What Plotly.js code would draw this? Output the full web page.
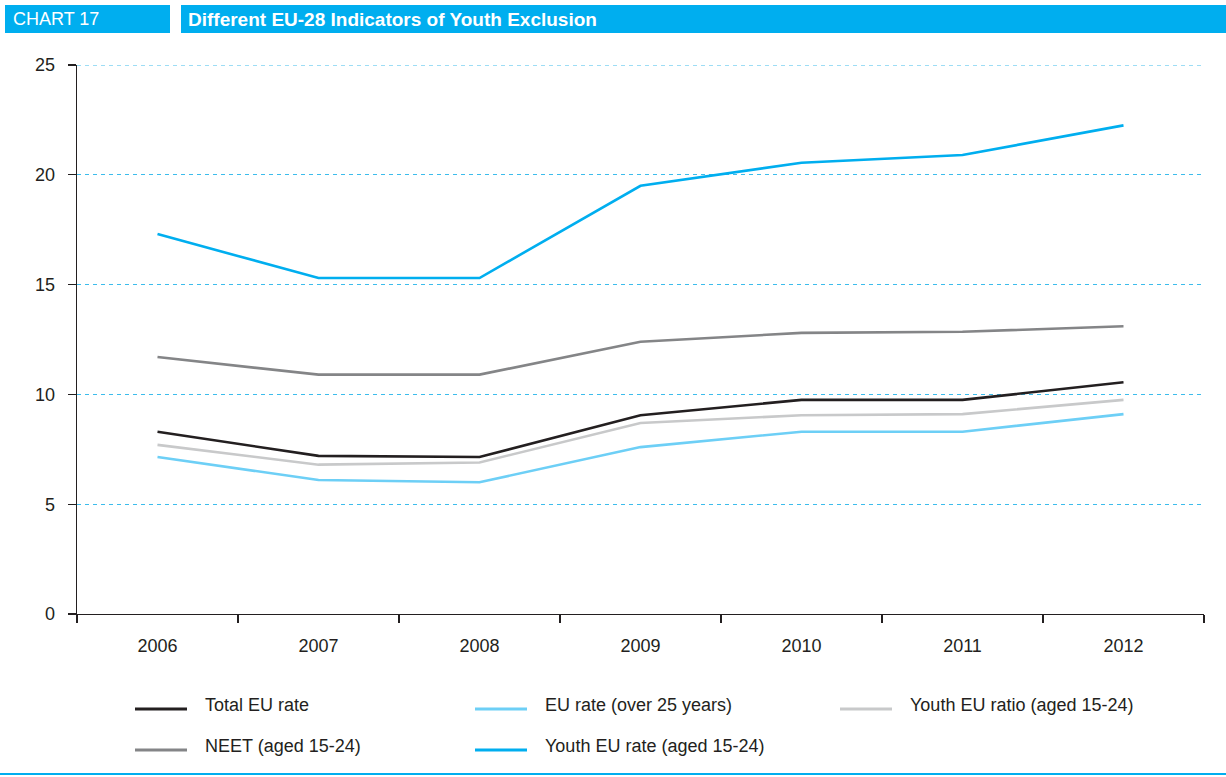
<!DOCTYPE html>
<html>
<head>
<meta charset="utf-8">
<script src="https://cdn.plot.ly/plotly-3.0.1.min.js"></script>
<style>
html,body{margin:0;padding:0;background:#fff;}
#chart{width:1226px;height:777px;}
</style>
</head>
<body>
<div id="chart"></div>
<script>
var years = ["2006","2007","2008","2009","2010","2011","2012"];
var totalEU = [8.3, 7.2, 7.15, 9.05, 9.75, 9.75, 10.55];
var euOver25 = [7.15, 6.1, 6.0, 7.6, 8.3, 8.3, 9.1];
var youthRatio = [7.7, 6.8, 6.9, 8.7, 9.05, 9.1, 9.75];
var neet = [11.7, 10.9, 10.9, 12.4, 12.8, 12.85, 13.1];
var youthRate = [17.3, 15.3, 15.3, 19.5, 20.55, 20.9, 22.25];

var names = ["Total EU rate","EU rate (over 25 years)","Youth EU ratio (aged 15-24)","NEET (aged 15-24)","Youth EU rate (aged 15-24)"];
var seriesData = [totalEU, euOver25, youthRatio, neet, youthRate];
var colors = ["#231f20","#6dcff6","#c8c9ca","#848587","#00aeef"];
var yMax = 25;

// plot area in px
var L=77, R=1204, T=65, B=614, W=1226, H=777;
function px(x){return (x-L)/(R-L);}
function py(y){return (B-y)/(B-T);}

var drawOrder=[2,1,0,3,4];
var traces = drawOrder.map(function(i){
  return {x:years, y:seriesData[i], type:"scatter", mode:"lines", name:names[i],
    line:{color:colors[i], width:2.6}, showlegend:false, hoverinfo:"x+y+name"};
});

var font = "Liberation Sans, Arial, Helvetica, sans-serif";
var gridColor = "#3cbcec";
var shapes = [
  {type:"line", xref:"paper", yref:"y", x0:0, x1:1, y0:yMax, y1:yMax, line:{color:gridColor, width:1, dash:"4px,4px"}, layer:"below"},
  {type:"rect", xref:"paper", yref:"paper", x0:px(5), x1:px(170), y0:py(33), y1:py(5), fillcolor:"#00aeef", line:{width:0}, layer:"above"},
  {type:"rect", xref:"paper", yref:"paper", x0:px(181), x1:px(1226), y0:py(33), y1:py(5), fillcolor:"#00aeef", line:{width:0}, layer:"above"},
  {type:"line", xref:"paper", yref:"paper", x0:px(0), x1:px(1226), y0:py(774), y1:py(774), line:{color:"#00aeef", width:2}}
];
var annotations = [
  {xref:"paper", yref:"paper", x:px(11), y:py(19.5), xanchor:"left", yanchor:"middle", showarrow:false, text:"CHART 17", font:{family:font, size:18, color:"#fff"}},
  {xref:"paper", yref:"paper", x:px(186), y:py(19.5), xanchor:"left", yanchor:"middle", showarrow:false, text:"<b>Different EU-28 Indicators of Youth Exclusion</b>", font:{family:font, size:19, color:"#fff"}}
];
// manual legend
var legPos = [[135,705],[475,705],[840,705],[135,746],[475,746]];
for (var k=0;k<names.length;k++){
  var p=legPos[k];
  shapes.push({type:"line", xref:"paper", yref:"paper", x0:px(p[0]), x1:px(p[0]+52), y0:py(p[1]+4), y1:py(p[1]+4), line:{color:colors[k], width:3}});
  annotations.push({xref:"paper", yref:"paper", x:px(p[0]+68), y:py(p[1]), xanchor:"left", yanchor:"middle", showarrow:false, text:names[k], font:{family:font, size:18, color:"#231f20"}});
}

var layout = {
  width:W, height:H,
  margin:{l:L, r:W-R, t:T, b:H-B, pad:0},
  paper_bgcolor:"#fff", plot_bgcolor:"#fff",
  font:{family:font, size:18, color:"#231f20"},
  showlegend:false,
  xaxis:{type:"category", range:[-0.5,6.5], tickson:"boundaries", ticks:"outside", ticklen:8, tickcolor:"#231f20", tickwidth:1.3,
    showline:true, linecolor:"#231f20", linewidth:1.3, showgrid:false, zeroline:false,
    ticklabelstandoff:15, tickfont:{family:font, size:18, color:"#231f20"}},
  yaxis:{range:[0,yMax], tickvals:[0,5,10,15,20,25], ticks:"outside", ticklen:8, tickcolor:"#231f20", tickwidth:1.3,
    showline:true, linecolor:"#231f20", linewidth:1.3, showgrid:true, gridcolor:gridColor, gridwidth:1, griddash:"4px,4px",
    zeroline:false, ticklabelstandoff:9, tickfont:{family:font, size:18, color:"#231f20"}},
  shapes:shapes, annotations:annotations
};
Plotly.newPlot("chart", traces, layout, {displayModeBar:false, staticPlot:true});
</script>
</body>
</html>
